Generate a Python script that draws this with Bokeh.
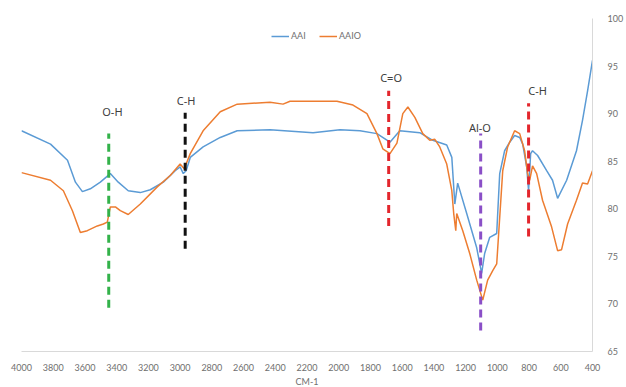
from bokeh.plotting import figure
from bokeh.models import Range1d, FixedTicker, Legend, LegendItem, ColumnDataSource
from bokeh.core.properties import value
from bokeh.embed import file_html
from bokeh.resources import INLINE

# --- data (wavenumber cm-1, transmittance %) ---
aai_x = [4000, 3817, 3710, 3660, 3616, 3566, 3503, 3440, 3390, 3327, 3251, 3188, 3106, 3031,
         3000, 2980, 2962, 2936, 2855, 2747, 2640, 2433, 2162, 1992, 1866, 1759, 1677, 1615,
         1489, 1407, 1319, 1287, 1268, 1250, 1193, 1130, 1099, 1080, 1048, 1004, 985, 954,
         922, 891, 859, 840, 815, 803, 790, 778, 746, 689, 652, 620, 563, 501, 463, 431, 400]
aai_y = [88.2, 86.8, 85.1, 82.8, 81.8, 82.1, 82.8, 83.7, 82.8, 81.9, 81.7, 82.0, 82.8, 84.0,
         84.4, 83.7, 84.0, 85.4, 86.5, 87.5, 88.2, 88.3, 88.0, 88.3, 88.2, 87.9, 87.0, 88.2,
         88.0, 87.2, 86.7, 85.4, 80.5, 82.7, 79.5, 75.9, 73.2, 75.3, 77.0, 77.4, 83.7, 86.1,
         87.0, 87.7, 87.5, 86.8, 84.4, 81.9, 85.8, 86.1, 85.6, 84.0, 83.0, 81.1, 83.0, 86.1,
         89.3, 92.4, 95.6]

aaio_x = [4000, 3817, 3736, 3679, 3629, 3585, 3522, 3484, 3459, 3440, 3408, 3377, 3327, 3251,
          3144, 3062, 3000, 2974, 2936, 2855, 2747, 2640, 2433, 2351, 2307, 2011, 1910, 1822,
          1759, 1722, 1677, 1633, 1596, 1564, 1520, 1470, 1426, 1394, 1363, 1319, 1287, 1275,
          1262, 1256, 1218, 1174, 1130, 1092, 1061, 1029, 1004, 966, 935, 891, 859, 828, 809,
          796, 778, 752, 715, 658, 620, 595, 557, 501, 463, 431, 400]
aaio_y = [83.8, 83.0, 81.9, 79.8, 77.5, 77.7, 78.2, 78.4, 78.6, 80.2, 80.2, 79.8, 79.4, 80.5,
          82.3, 83.5, 84.7, 84.2, 85.8, 88.2, 90.2, 91.0, 91.2, 91.0, 91.3, 91.3, 90.9, 90.0,
          87.9, 86.3, 85.8, 86.9, 90.0, 90.7, 89.6, 87.9, 87.2, 87.3, 86.5, 84.7, 81.9, 79.5,
          77.7, 79.5, 77.7, 75.3, 72.5, 70.4, 72.5, 73.5, 74.2, 84.0, 86.5, 88.2, 87.9, 86.1,
          83.7, 83.0, 84.5, 83.7, 80.9, 78.1, 75.6, 75.7, 78.4, 80.9, 82.7, 82.6, 84.0]

# band markers
band_labels = ["O-H", "C-H", "C=O", "Al-O", "C-H"]
band_x = [3450, 2968, 1685, 1105, 803]
band_top = [87.9, 90.1, 92.4, 87.9, 91.1]
band_bottom = [69.6, 75.8, 78.2, 67.2, 77.1]
band_colors = ["#33b24a", "#111111", "#e3262d", "#8a4fc7", "#e3262d"]
label_x = [3427, 2962, 1670, 1110, 746]
label_y = [90.2, 91.4, 93.8, 88.5, 92.4]

x_ticks = list(range(400, 4001, 200))
y_ticks = [65, 70, 75, 80, 85, 90, 95, 100]

p = figure(frame_width=571, frame_height=333, output_backend="svg", toolbar_location=None,
           x_range=Range1d(4000, 400), y_range=Range1d(65, 100),
           y_axis_location="right",
           min_border_left=21, min_border_right=34, min_border_top=18, min_border_bottom=36)
p.outline_line_color = None
p.xgrid.grid_line_color = None
p.ygrid.grid_line_color = None
p.background_fill_color = "white"

tick_font = "Lato"
for ax in (p.xaxis[0], p.yaxis[0]):
    ax.axis_line_color = "#d9d9d9"
    ax.major_tick_line_color = None
    ax.minor_tick_line_color = None
    ax.major_label_text_font = tick_font
    ax.major_label_text_font_size = "9px"
    ax.major_label_text_color = "#6f6f6f"

p.xaxis[0].ticker = FixedTicker(ticks=x_ticks)
p.xaxis[0].major_label_standoff = 6
p.xaxis[0].axis_label = "CM-1"
p.xaxis[0].axis_label_text_font = tick_font
p.xaxis[0].axis_label_text_font_size = "9px"
p.xaxis[0].axis_label_text_font_style = "normal"
p.xaxis[0].axis_label_text_color = "#6f6f6f"
p.xaxis[0].axis_label_standoff = 2
p.yaxis[0].ticker = FixedTicker(ticks=y_ticks)
p.yaxis[0].major_label_standoff = 9

r1 = p.line(aai_x, aai_y, line_color="#5B9BD5", line_width=1.5)
r2 = p.line(aaio_x, aaio_y, line_color="#ED7D31", line_width=1.5)

src = ColumnDataSource(dict(x=band_x, y0=band_bottom, y1=band_top, c=band_colors))
p.segment(x0="x", y0="y0", x1="x", y1="y1", source=src, line_color="c",
          line_width=3, line_dash="8 5")

lsrc = ColumnDataSource(dict(x=label_x, y=label_y, t=band_labels))
p.text(x="x", y="y", text="t", source=lsrc, text_align="center", text_baseline="middle",
       text_font=value("Noto Sans"), text_font_size="11px", text_color="#404040")

legend = Legend(items=[LegendItem(label="AAI", renderers=[r1]),
                       LegendItem(label="AAIO", renderers=[r2])],
                orientation="horizontal", location=(250, 310),
                glyph_width=18, glyph_height=10, label_standoff=2, spacing=8,
                padding=0, margin=0, border_line_color=None, background_fill_alpha=0,
                label_text_font=tick_font, label_text_font_size="9px",
                label_text_color="#6f6f6f", label_height=10)
p.add_layout(legend, "center")

open("out.html", "w").write(file_html(p, INLINE))
